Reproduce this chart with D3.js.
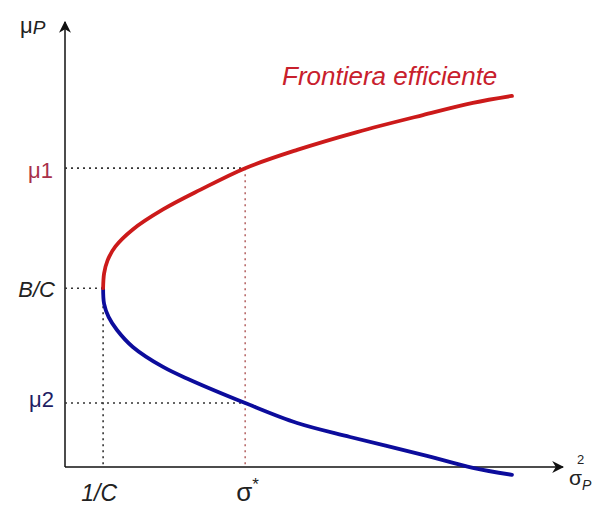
<!DOCTYPE html>
<html lang="it">
<head>
    <meta charset="UTF-8">
    <title>Frontiera efficiente</title>
    <script src="https://d3js.org/d3.v7.min.js"></script>
    <style>
        body { margin: 0; background: #fff; }
        svg text { font-family: "Liberation Sans", Arial, sans-serif; }
        .guide { fill: none; stroke-width: 1.6; stroke-dasharray: 2,4; }
        .curve { fill: none; stroke-width: 3.8; stroke-linecap: round; }
    </style>
</head>
<body>
    <div id="chart"></div>
    <script>
        // points: [sigma^2, mu] in axis units (0..10)
        const upperBranch = [
            [0.77, 4.11], [0.79, 4.45], [0.86, 4.75], [1.02, 5.07], [1.37, 5.46],
            [1.98, 5.92], [2.73, 6.37], [3.64, 6.87], [4.69, 7.29],
            [5.90, 7.70], [7.23, 8.09], [8.24, 8.37], [9.03, 8.53]
        ];
        const lowerBranch = [
            [0.77, 4.11], [0.79, 3.75], [0.88, 3.45], [1.05, 3.15], [1.37, 2.76],
            [1.98, 2.30], [2.53, 2.00], [3.64, 1.47], [4.69, 1.01], [5.76, 0.69],
            [7.23, 0.28], [8.24, -0.02], [9.03, -0.18]
        ];
        const minVar = 0.77;      // 1/C
        const minMu = 4.11;       // B/C
        const sigmaStar = 3.64;
        const mu1 = 6.87;
        const mu2 = 1.47;

        const width = 594, height = 506;

        const svg = d3.select("#chart").append("svg")
            .attr("width", width)
            .attr("height", height);

        const x = d3.scaleLinear().domain([0, 10]).range([65, 560]);
        const y = d3.scaleLinear().domain([0, 10]).range([467, 32]);

        const defs = svg.append("defs");
        defs.append("marker")
            .attr("id", "arrow")
            .attr("viewBox", "0 0 10 10")
            .attr("refX", 9).attr("refY", 5)
            .attr("markerWidth", 12).attr("markerHeight", 12)
            .attr("markerUnits", "userSpaceOnUse")
            .attr("orient", "auto")
            .append("path")
            .attr("d", "M0,0 L10,5 L0,10 L3,5 Z")
            .attr("fill", "#111");

        // axes
        svg.append("line")
            .attr("x1", x(0)).attr("y1", y(0))
            .attr("x2", x(0)).attr("y2", y(0) - 445)
            .attr("stroke", "#111").attr("stroke-width", 1.5)
            .attr("marker-end", "url(#arrow)");
        svg.append("line")
            .attr("x1", x(0)).attr("y1", y(0))
            .attr("x2", x(10) + 3).attr("y2", y(0))
            .attr("stroke", "#111").attr("stroke-width", 1.5)
            .attr("marker-end", "url(#arrow)");

        // dotted guides
        const guides = [
            { x1: 0, y1: mu1, x2: sigmaStar, y2: mu1, c: "#333" },
            { x1: 0, y1: mu2, x2: sigmaStar, y2: mu2, c: "#333" },
            { x1: 0, y1: minMu, x2: minVar, y2: minMu, c: "#333" },
            { x1: minVar, y1: minMu, x2: minVar, y2: 0, c: "#333" },
            { x1: sigmaStar, y1: mu1, x2: sigmaStar, y2: 0, c: "#b86a6a" }
        ];
        svg.selectAll(".guide")
            .data(guides)
            .enter().append("line")
            .attr("class", "guide")
            .attr("x1", d => x(d.x1)).attr("y1", d => y(d.y1))
            .attr("x2", d => x(d.x2)).attr("y2", d => y(d.y2))
            .attr("stroke", d => d.c);

        const line = d3.line()
            .x(d => x(d[0]))
            .y(d => y(d[1]))
            .curve(d3.curveCatmullRom.alpha(0.5));

        svg.append("path")
            .datum(lowerBranch)
            .attr("class", "curve")
            .attr("stroke", "#0c0c9c")
            .attr("d", line);

        svg.append("path")
            .datum(upperBranch)
            .attr("class", "curve")
            .attr("stroke", "#cc1a1a")
            .attr("d", line);

        // labels
        svg.append("text")
            .attr("x", 282).attr("y", 85)
            .attr("font-size", 26).attr("font-style", "italic")
            .attr("fill", "#c8202c")
            .text("Frontiera efficiente");

        const m1 = svg.append("text")
            .attr("x", 53).attr("y", y(mu1) + 10)
            .attr("text-anchor", "end")
            .attr("font-size", 22).attr("fill", "#a8304a");
        m1.append("tspan").text("μ");
        m1.append("tspan").text("1");

        const m2 = svg.append("text")
            .attr("x", 54).attr("y", y(mu2) + 4)
            .attr("text-anchor", "end")
            .attr("font-size", 22).attr("fill", "#1e1e64");
        m2.append("tspan").text("μ");
        m2.append("tspan").text("2");

        svg.append("text")
            .attr("x", 55).attr("y", y(minMu) + 9)
            .attr("text-anchor", "end")
            .attr("font-size", 22).attr("font-style", "italic")
            .attr("fill", "#222")
            .text("B/C");

        svg.append("text")
            .attr("x", x(minVar) - 4).attr("y", 501)
            .attr("text-anchor", "middle")
            .attr("font-size", 23).attr("font-style", "italic")
            .attr("fill", "#222")
            .text("1/C");

        const ss = svg.append("text")
            .attr("x", x(sigmaStar) - 9).attr("y", 501)
            .attr("font-size", 26).attr("fill", "#222");
        ss.append("tspan").text("σ");
        ss.append("tspan").attr("dy", -11).attr("font-size", 17).text("*");

        // axis titles
        const yt = svg.append("text")
            .attr("x", 20).attr("y", 33)
            .attr("font-size", 22).attr("fill", "#222");
        yt.append("tspan").text("μ");
        yt.append("tspan").attr("dy", 1).attr("font-size", 19).attr("font-style", "italic").text("P");

        const xt = svg.append("text")
            .attr("x", 569).attr("y", 485)
            .attr("font-size", 21).attr("fill", "#222");
        xt.append("tspan").text("σ");
        xt.append("tspan").attr("dy", 5).attr("font-size", 14).attr("font-style", "italic").text("P");
        svg.append("text")
            .attr("x", 577).attr("y", 464)
            .attr("font-size", 13).attr("fill", "#222")
            .text("2");
    </script>
</body>
</html>
